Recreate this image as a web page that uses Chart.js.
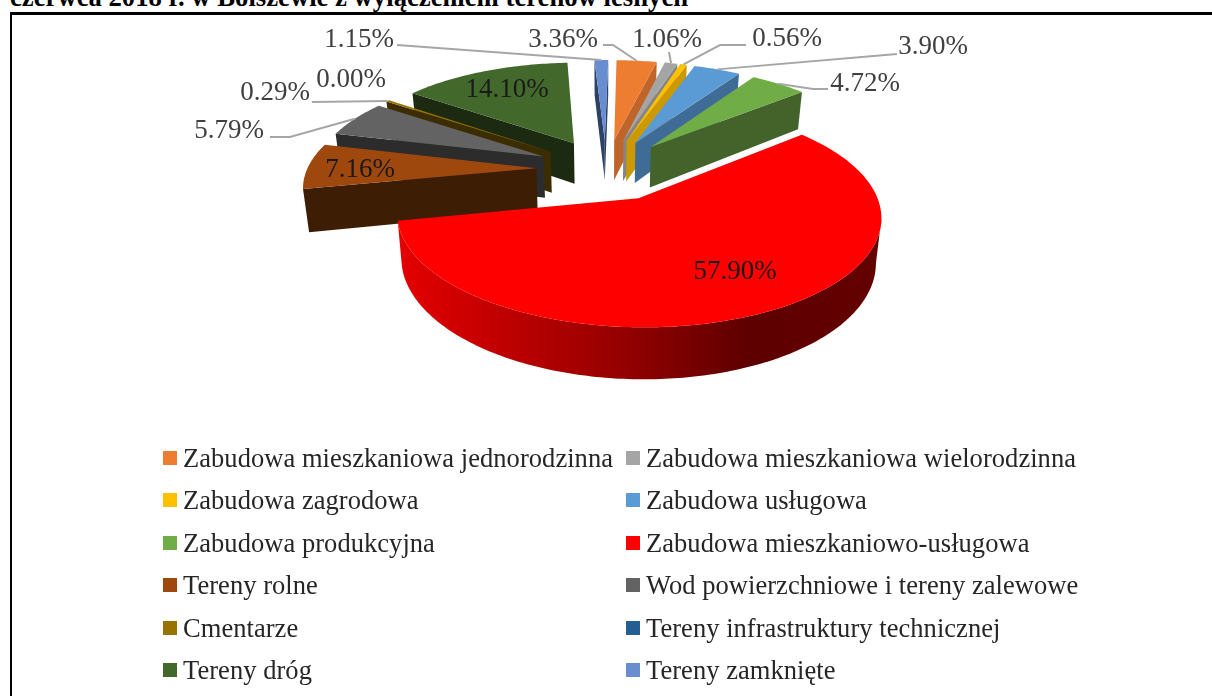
<!DOCTYPE html>
<html>
<head>
<meta charset="utf-8">
<style>
  html, body { margin: 0; padding: 0; background: #fff; overflow: hidden; }
  #page { position: relative; width: 1212px; height: 696px; overflow: hidden; }
  #title { position: absolute; left: 10px; top: -18px; font: bold 26.7px "Liberation Serif"; white-space: nowrap; color: #000; }
  #frame { position: absolute; left: 10px; top: 12px; width: 1210px; height: 700px; border: 2px solid #000; border-top-width: 3px; box-sizing: border-box; }
  #chart { position: absolute; left: 0; top: 0; }
  .key { position: absolute; font: 26.5px "Liberation Serif"; letter-spacing: 0.05px; color: #262626; white-space: nowrap; line-height: 30px; }
  .key i { position: absolute; left: -20px; top: 8px; width: 14px; height: 14px; }
</style>
</head>
<body>
<div id="page">
  <div id="title">czerwca 2018 r. w Bolszewie z wyłączeniem terenów leśnych</div>
  <div id="frame"></div>
  <canvas id="chart" width="1212" height="696"></canvas>
</div>
<script src="https://cdn.jsdelivr.net/npm/chart.js@4/dist/chart.umd.min.js"></script>
<script>
var categories = [
  "Zabudowa mieszkaniowa jednorodzinna",
  "Zabudowa mieszkaniowa wielorodzinna",
  "Zabudowa zagrodowa",
  "Zabudowa usługowa",
  "Zabudowa produkcyjna",
  "Zabudowa mieszkaniowo-usługowa",
  "Tereny rolne",
  "Wod powierzchniowe i tereny zalewowe",
  "Cmentarze",
  "Tereny infrastruktury technicznej",
  "Tereny dróg",
  "Tereny zamknięte"
];
var shares = [3.36, 1.06, 0.56, 3.90, 4.72, 57.90, 7.16, 5.79, 0.29, 0.00, 14.10, 1.15];
var topColors = ["#ed7d31", "#a5a5a5", "#ffc000", "#5b9bd5", "#70ad47", "#ff0000", "#9e480e", "#636363", "#997300", "#255e91", "#43682b", "#698ed0"];
var wallColors = ["#c0652a", "#858585", "#cc9a00", "#3f6c97", "#43632b", "#ff0000", "#3d1e05", "#2c2c2c", "#3c2d00", "#1b3a5a", "#1b2a10", "#2d4165"];

// where each percentage sits, and the bend of its leader line (null = no line)
var labelAt = [[563, 40], [667, 40], [787, 39], [933, 47], [865, 84], [735, 272], [360, 170], [229, 131], [275, 93], [351, 80], [507, 90], [359, 40]];
var leaderFrom = [[[603, 45], [613, 45]], [[669, 52]], [[746, 45], [720, 45]], [[897, 54]], [[828, 89], [813, 89]], null, null, [[270, 137], [290, 137]], [[312, 102]], null, null, [[397, 45]]];

// perspective look of the pie, fitted to the picture
var pieRadius = 229;
var squash = 0.436;
var perspective = 0.15;
var explodes = [0.305, 0.305, 0.305, 0.305, 0.305, 0.312, 0.305, 0.305, 0.305, 0.305, 0.305, 0.305];
var pieDepth = 42;
var taper = 0.02;

function project(arc, px, pz, down) {
  var s = 1 / (1 - perspective * pz);
  var x = px * pieRadius * s;
  var y = pz * pieRadius * squash * s;
  if (down) {
    x = x * (1 - taper);
    y = y + pieDepth * s;
  }
  return { x: arc.x + x, y: arc.y + y };
}

function sliceOutline(arc, explode) {
  var mid = (arc.startAngle + arc.endAngle) / 2;
  var ox = Math.cos(mid) * explode;
  var oz = Math.sin(mid) * explode;
  var pts = [[ox, oz]];
  var steps = Math.max(2, Math.ceil((arc.endAngle - arc.startAngle) * 60));
  for (var i = 0; i <= steps; i++) {
    var a = arc.startAngle + (arc.endAngle - arc.startAngle) * i / steps;
    pts.push([ox + Math.cos(a), oz + Math.sin(a)]);
  }
  return pts;
}

function fillPoly(ctx, pts, color) {
  ctx.beginPath();
  pts.forEach(function (p, i) {
    if (i === 0) ctx.moveTo(p.x, p.y);
    else ctx.lineTo(p.x, p.y);
  });
  ctx.closePath();
  ctx.fillStyle = color;
  ctx.fill();
}

// walls only where the outline runs right to left, those face the viewer
function drawWalls(ctx, top, low, color) {
  var run = [];
  function flush() {
    if (run.length > 1) {
      var upper = run.map(function (k) { return top[k]; });
      var lower = run.map(function (k) { return low[k]; }).reverse();
      fillPoly(ctx, upper.concat(lower), color);
    }
    run = [];
  }
  for (var k = 0; k < top.length; k++) {
    var n = (k + 1) % top.length;
    if (top[n].x < top[k].x) {
      if (run.length === 0) run.push(k);
      run.push(n);
    } else {
      flush();
    }
  }
  flush();
}

var perspectivePie = {
  id: "perspectivePie",
  beforeDatasetDraw: function (chart) {
    var ctx = chart.ctx;
    var arcs = chart.getDatasetMeta(0).data;
    var order = arcs.map(function (a, i) { return i; });
    order.sort(function (a, b) {
      return Math.sin((arcs[a].startAngle + arcs[a].endAngle) / 2) - Math.sin((arcs[b].startAngle + arcs[b].endAngle) / 2);
    });
    var redWall = ctx.createLinearGradient(400, 0, 885, 0);
    redWall.addColorStop(0, "#e40000");
    redWall.addColorStop(0.45, "#960000");
    redWall.addColorStop(0.72, "#5e0000");
    redWall.addColorStop(1, "#640000");

    ctx.save();
    order.forEach(function (i) {
      var arc = arcs[i];
      if (arc.circumference === 0 || shares[i] === 0) return;
      var outline = sliceOutline(arc, explodes[i]);
      var wall = shares[i] > 50 ? redWall : wallColors[i];
      var top = outline.map(function (p) { return project(arc, p[0], p[1], false); });
      var low = outline.map(function (p) { return project(arc, p[0], p[1], true); });
      drawWalls(ctx, top, low, wall);
      fillPoly(ctx, top, topColors[i]);
    });
    ctx.restore();
    return false;
  },
  afterDatasetsDraw: function (chart) {
    var ctx = chart.ctx;
    var arcs = chart.getDatasetMeta(0).data;
    ctx.save();
    ctx.strokeStyle = "#a6a6a6";
    ctx.lineWidth = 2;
    leaderFrom.forEach(function (bend, i) {
      if (!bend) return;
      var arc = arcs[i];
      var mid = (arc.startAngle + arc.endAngle) / 2;
      var r = 1 + explodes[i];
      var end = project(arc, Math.cos(mid) * r, Math.sin(mid) * r, false);
      ctx.beginPath();
      ctx.moveTo(bend[0][0], bend[0][1]);
      bend.slice(1).forEach(function (b) { ctx.lineTo(b[0], b[1]); });
      ctx.lineTo(end.x, end.y);
      ctx.stroke();
    });
    ctx.font = '27px "Liberation Serif"';
    ctx.textAlign = "center";
    ctx.textBaseline = "middle";
    shares.forEach(function (v, i) {
      ctx.fillStyle = (v === 57.90 || v === 14.10 || v === 7.16) ? "#1a1a1a" : "#404040";
      ctx.fillText(v.toFixed(2) + "%", labelAt[i][0], labelAt[i][1]);
    });
    ctx.restore();
  }
};

new Chart(document.getElementById("chart").getContext("2d"), {
  type: "pie",
  data: {
    labels: categories,
    datasets: [{ data: shares, backgroundColor: topColors, borderWidth: 0 }]
  },
  options: {
    responsive: false,
    animation: false,
    radius: pieRadius,
    rotation: 1,
    layout: { padding: { left: 0, bottom: 358 } },
    plugins: { legend: { display: false }, tooltip: { enabled: false } }
  },
  plugins: [perspectivePie]
});

// legend, two columns filled row by row
var page = document.getElementById("page");
categories.forEach(function (name, i) {
  var row = Math.floor(i / 2);
  var key = document.createElement("div");
  key.className = "key";
  key.style.left = (i % 2 === 0 ? 183 : 646) + "px";
  key.style.top = (443 + row * 42.4) + "px";
  key.textContent = name;
  var box = document.createElement("i");
  box.style.background = topColors[i];
  key.appendChild(box);
  page.appendChild(key);
});
</script>
</body>
</html>
